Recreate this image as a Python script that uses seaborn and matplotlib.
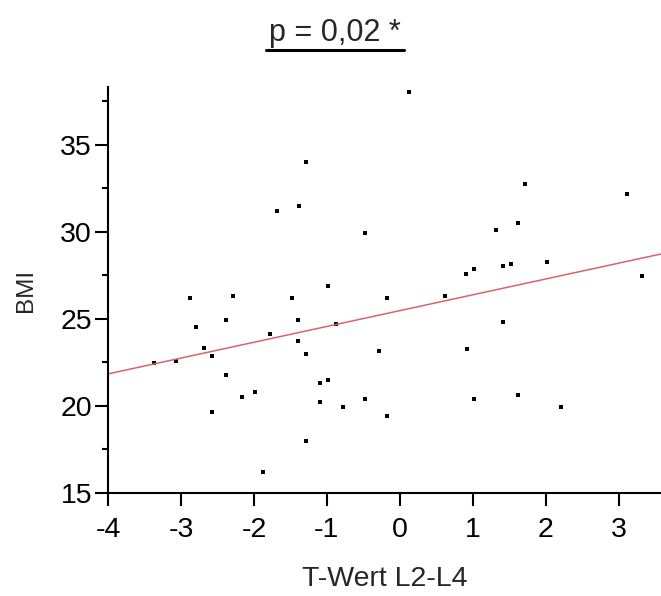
import numpy as np
import pandas as pd
import seaborn as sns
import matplotlib
matplotlib.use("Agg")
import matplotlib.pyplot as plt
from matplotlib.lines import Line2D
from matplotlib.ticker import MultipleLocator

# ---- data ----
t_wert = [0.12, -1.28, 1.72, 3.11, -1.68, -1.38, 1.62, -0.48, 1.32, 1.52,
          1.41, 2.02, 1.02, 0.91, 3.32, -0.98, -2.88, -2.28, -1.48, -0.18,
          0.62, -2.79, -2.38, -1.39, -0.88, 1.41, -1.78, -2.68, -2.57, -1.39,
          -1.28, -3.37, -3.07, -0.29, 0.92, -2.38, -2.17, -1.98, -2.57, -1.09,
          -0.98, -1.09, -0.78, -0.48, -0.18, 1.02, 1.62, 2.21, -1.28, -1.88]
bmi = [38.0, 33.97, 32.72, 32.17, 31.2, 31.47, 30.51, 29.94, 30.09, 28.14,
       28.0, 28.28, 27.85, 27.59, 27.45, 26.9, 26.2, 26.3, 26.2, 26.2,
       26.3, 24.5, 24.95, 24.95, 24.7, 24.8, 24.1, 23.3, 22.85, 23.7,
       23.0, 22.47, 22.6, 23.15, 23.27, 21.75, 20.5, 20.8, 19.66, 21.3,
       21.5, 20.2, 19.95, 20.37, 19.4, 20.37, 20.63, 19.93, 18.0, 16.19]
x_ticks = [-4, -3, -2, -1, 0, 1, 2, 3]
y_ticks = [15, 20, 25, 30, 35]
title_text = "p = 0,02 *"
x_label = "T-Wert L2-L4"
y_label = "BMI"

df = pd.DataFrame({"T": t_wert, "BMI": bmi})

sns.set_style("ticks")
plt.rcParams["font.family"] = ["Liberation Sans", "DejaVu Sans"]
plt.rcParams["axes.unicode_minus"] = False

fig = plt.figure(figsize=(6.61, 5.96), dpi=100)
ax = fig.add_axes([108 / 661, (596 - 493) / 596, 1 - 108 / 661, (493 - 87) / 596])

ax.set_xlim(-4, 3.58)
ax.set_ylim(15, 38.3)
sns.regplot(data=df, x="T", y="BMI", ax=ax, scatter=False, ci=None,
            truncate=False, line_kws=dict(color="#e0606e", lw=1.1))
sns.scatterplot(data=df, x="T", y="BMI", ax=ax, marker="s", s=11,
                color="black", linewidth=0)

ax.set_xlim(-4, 3.58)
ax.set_ylim(15, 38.3)
ax.set_xticks(x_ticks)
ax.set_yticks(y_ticks)
ax.yaxis.set_minor_locator(MultipleLocator(2.5))
ax.tick_params(axis="both", which="major", labelsize=20.5, width=1.5,
               length=9.5, color="black", labelcolor="black")
ax.tick_params(axis="x", pad=8)
ax.tick_params(axis="y", pad=2)
ax.tick_params(axis="y", which="minor", length=4, width=1.5, color="black")
for s in ["left", "bottom"]:
    ax.spines[s].set_linewidth(1.5)
    ax.spines[s].set_color("black")
sns.despine(ax=ax)
ax.set_xlabel(x_label, fontsize=20.5, labelpad=16)
ax.set_ylabel(y_label, fontsize=17.5, labelpad=17)

fig.text(335 / 661, 1 - 33 / 596, title_text, ha="center", va="center",
         fontsize=22)
fig.add_artist(Line2D([266 / 661, 404 / 661], [1 - 50 / 596, 1 - 50 / 596],
                      color="black", lw=2.2, transform=fig.transFigure))

fig.savefig("out.png", dpi=100)
